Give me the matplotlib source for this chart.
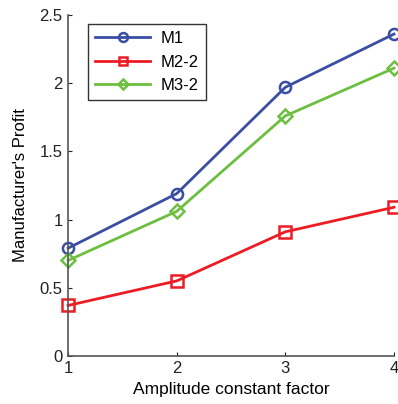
import matplotlib
matplotlib.use('Agg')
import matplotlib.pyplot as plt

plt.rcParams['font.family'] = ['Liberation Sans', 'DejaVu Sans']

x = [1, 2, 3, 4]
m1 = [0.79, 1.19, 1.97, 2.36]
m2 = [0.37, 0.55, 0.91, 1.09]
m3 = [0.70, 1.06, 1.76, 2.11]

fig = plt.figure(figsize=(3.98, 4.04), dpi=100)
ax = fig.add_axes([0.171, 0.119, 0.819, 0.844])

ax.plot(x, m1, '-o', color='#3a4ea3', lw=2, ms=8, mfc='none', mew=1.8, label='M1', clip_on=False)
ax.plot(x, m2, '-s', color='#ed1c24', lw=2, ms=8, mfc='none', mew=1.8, label='M2-2', clip_on=False)
ax.plot(x, m3, '-D', color='#6cbf40', lw=2, ms=7, mfc='none', mew=1.8, label='M3-2', clip_on=False)

ax.set_xlim(1, 4)
ax.set_ylim(0, 2.5)
ax.set_xticks([1, 2, 3, 4])
ax.set_yticks([0, 0.5, 1, 1.5, 2, 2.5])
ax.set_yticklabels(['0', '0.5', '1', '1.5', '2', '2.5'])
ax.spines['top'].set_visible(False)
ax.spines['right'].set_visible(False)
for s in ['left', 'bottom']:
    ax.spines[s].set_color('#555555')
    ax.spines[s].set_linewidth(1.2)
ax.tick_params(direction='in', length=3, labelsize=12, colors='#222222', pad=4)
ax.set_xlabel('Amplitude constant factor', fontsize=12.5, labelpad=4)
ax.set_ylabel("Manufacturer's Profit", fontsize=12, labelpad=8)

leg = ax.legend(loc='upper left', bbox_to_anchor=(0.061, 0.974), fontsize=12, fancybox=False,
                edgecolor='black', handlelength=3.3, borderpad=0.45, labelspacing=0.5,
                markerscale=0.8, borderaxespad=0, handletextpad=0.6)
leg.get_frame().set_linewidth(1.0)

fig.savefig('out.png', dpi=100)
